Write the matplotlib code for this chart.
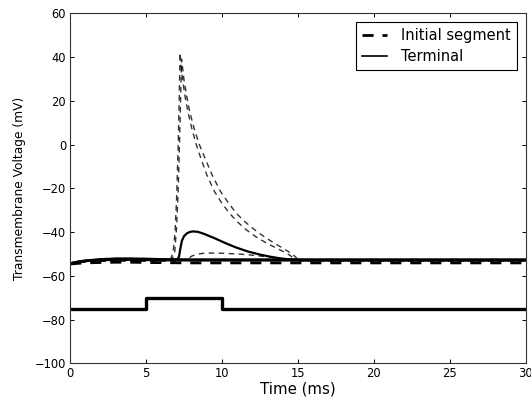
# Membrane voltage at the initial segment and the terminal, with the stimulus step
import matplotlib
matplotlib.use('Agg')
import matplotlib.pyplot as plt
from matplotlib.lines import Line2D

# initial segment, spiking trace (first)
t_is1 = [0, 0.5, 1, 2, 3, 4, 5, 6, 6.4, 6.6, 6.78, 6.9, 7.0, 7.1, 7.18, 7.23, 7.3, 7.4,
         7.56, 7.75, 8.0, 8.3, 8.66, 9.0, 9.5, 10.0, 10.5, 11.0, 11.6, 12.3, 13.0, 13.6,
         14.2, 14.5, 14.75, 15.0, 20, 25, 30]
v_is1 = [-54.5, -54, -53.5, -53.2, -53, -53, -53, -52.8, -52.7, -52.6, -49, -40, -25, -2,
         22, 42, 36, 29.5, 22, 15, 7.5, 0, -7.5, -14, -21.5, -27, -31.5, -35.3, -39, -42.5,
         -45.3, -47.4, -49.5, -50.8, -52.2, -53, -53, -53, -53]

# initial segment, spiking trace (second, a little later)
t_is2 = [0, 0.5, 1, 2, 3, 4, 5, 6, 6.5, 6.7, 6.88, 7.0, 7.1, 7.2, 7.28, 7.33, 7.4, 7.5,
         7.67, 7.87, 8.15, 8.5, 8.95, 9.35, 9.9, 10.45, 10.95, 11.5, 12.15, 12.85, 13.5,
         14.0, 14.5, 14.75, 14.95, 15.2, 20, 25, 30]
v_is2 = [-54.5, -54, -53.6, -53.3, -53.1, -53.1, -53.1, -53, -52.9, -52.8, -49, -38, -22,
         2, 25, 39, 35, 29, 22, 15, 7.5, 0, -7.5, -14, -21.5, -27, -31.5, -35.3, -39,
         -42.5, -45.3, -47.4, -49.5, -50.8, -52.2, -53, -53, -53, -53]

# initial segment, sub-threshold trace
t_is3 = [0, 0.5, 1, 2, 3, 4, 5, 6, 7, 7.5, 7.8, 8.0, 8.3, 8.66, 9.0, 9.53, 10.1, 10.63,
         11.2, 11.73, 12.3, 12.83, 13.3, 13.7, 14.2, 14.6, 15, 20, 25, 30]
v_is3 = [-54.5, -54, -53.6, -53.3, -53.2, -53.2, -53.3, -53.3, -53.2, -52.8, -52.0, -51.0,
         -50.2, -49.8, -49.6, -49.6, -49.7, -49.9, -50.1, -50.4, -50.8, -51.2, -51.6,
         -52.0, -52.5, -52.9, -53.2, -53.3, -53.3, -53.3]

# initial segment, resting trace
t_is4 = [0, 0.5, 1, 2, 3, 4, 5, 6, 8, 10, 15, 20, 25, 30]
v_is4 = [-54.6, -54.3, -54.1, -53.9, -53.8, -53.8, -53.9, -54.0, -54.1, -54.1, -54.1,
         -54.1, -54.1, -54.1]

# terminal, responding trace
t_te1 = [0, 0.5, 1, 2, 3, 4, 5, 6, 6.8, 7.05, 7.16, 7.25, 7.35, 7.5, 7.7, 7.9, 8.1, 8.4,
         8.8, 9.5, 10.3, 10.9, 11.7, 12.5, 13.2, 13.8, 14.4, 15, 16, 20, 25, 30]
v_te1 = [-54.3, -53.6, -53.1, -52.6, -52.3, -52.3, -52.4, -52.6, -52.7, -52.5, -51.3,
         -47.5, -44, -41.8, -40.5, -39.9, -39.7, -39.9, -40.8, -42.8, -45.3, -47.0, -48.9,
         -50.3, -51.3, -52.0, -52.5, -52.7, -52.8, -52.8, -52.8, -52.8]

# terminal, resting traces (same time points)
t_te2 = [0, 0.5, 1, 2, 3, 4, 5, 6, 8, 10, 15, 20, 25, 30]
v_te2 = [-54.3, -53.5, -53.0, -52.4, -52.1, -52.1, -52.2, -52.4, -52.5, -52.5, -52.5,
         -52.5, -52.5, -52.5]
v_te3 = [-54.3, -53.7, -53.3, -52.9, -52.7, -52.7, -52.8, -52.9, -53.0, -53.0, -53.0,
         -53.0, -53.0, -53.0]

# stimulus step
t_stim = [0, 5, 10, 30]
v_stim = [-75, -70, -75, -75]

dash = (4, 3.2)

fig = plt.figure(figsize=(5.31, 4.01), dpi=100)
ax = fig.add_axes([0.1324, 0.094, 0.8576, 0.8728])

ax.plot(t_is4, v_is4, color='k', lw=2.0, ls='--', dashes=dash)
ax.plot(t_is3, v_is3, color='k', lw=1.0, ls='--', dashes=dash, alpha=0.8)
ax.plot(t_is1, v_is1, color='k', lw=1.0, ls='--', dashes=dash, alpha=0.8)
ax.plot(t_is2, v_is2, color='k', lw=1.0, ls='--', dashes=dash, alpha=0.8)
ax.plot(t_te2, v_te2, color='k', lw=1.6)
ax.plot(t_te2, v_te3, color='k', lw=1.6)
ax.plot(t_te1, v_te1, color='k', lw=1.6)
ax.plot(t_stim, v_stim, color='k', lw=2.4, drawstyle='steps-post')

ax.set_xlim(0, 30)
ax.set_ylim(-100, 60)
ax.set_xticks(range(0, 31, 5))
ax.set_yticks(range(-100, 61, 20))
ax.tick_params(direction='in', top=True, right=True, length=3, width=0.7,
               labelsize=8.3, pad=3)
for s in ax.spines.values():
    s.set_linewidth(0.8)
    s.set_color('#333333')
ax.set_xlabel('Time (ms)', fontsize=10.8, labelpad=1)
ax.set_ylabel('Transmembrane Voltage (mV)', fontsize=8.8, labelpad=6)

handles = [Line2D([], [], color='k', lw=2.0, ls='--', dashes=dash),
           Line2D([], [], color='k', lw=1.2)]
leg = ax.legend(handles, ['Initial segment', 'Terminal'], loc='upper right',
                fontsize=10.5, fancybox=False, framealpha=1, edgecolor='k',
                handlelength=1.7, handletextpad=1.0, borderpad=0.4,
                labelspacing=0.4, borderaxespad=0.6)
leg.get_frame().set_linewidth(0.8)

fig.savefig('out.png', dpi=100)
